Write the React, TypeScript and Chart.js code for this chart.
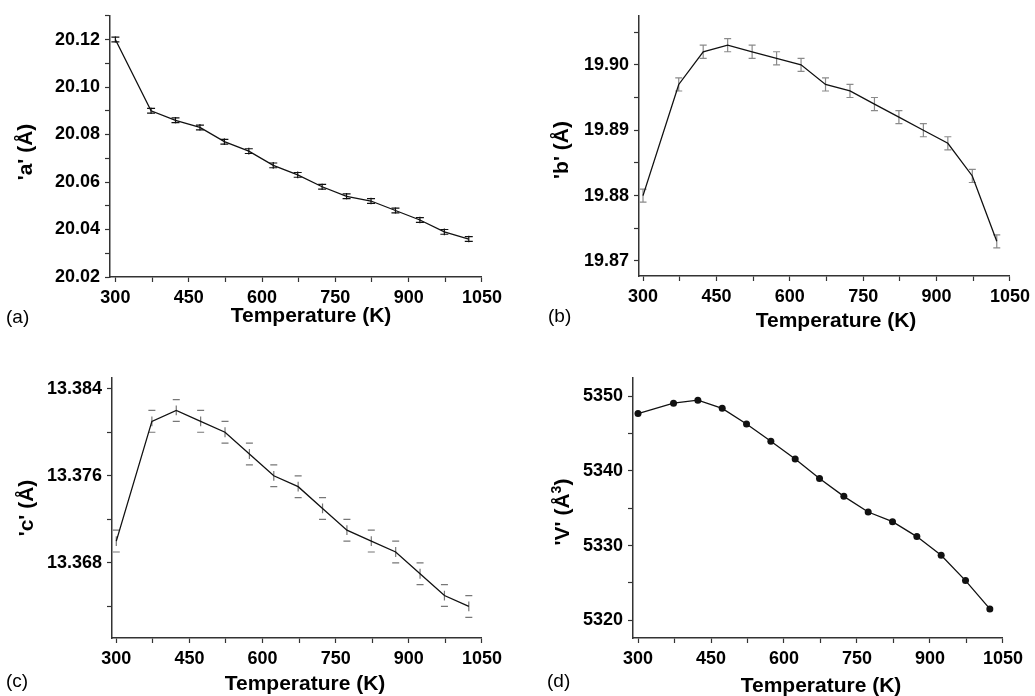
import React, { useEffect, useRef } from 'react';
import { Chart, registerables } from 'chart.js';

Chart.register(...registerables);

// ---------------- data ----------------
const temperatures = [300, 373, 423, 473, 523, 573, 623, 673, 723, 773, 823, 873, 923, 973, 1023];

const aValues = [20.120, 20.090, 20.086, 20.083, 20.077, 20.073, 20.067, 20.063, 20.058, 20.054, 20.052, 20.048, 20.044, 20.039, 20.036];
const aErrors = [0.001, 0.001, 0.001, 0.001, 0.001, 0.001, 0.001, 0.001, 0.001, 0.001, 0.001, 0.001, 0.001, 0.001, 0.001];

const bValues = [19.880, 19.897, 19.902, 19.903, 19.902, 19.901, 19.900, 19.897, 19.896, 19.894, 19.892, 19.890, 19.888, 19.883, 19.873];
const bErrors = [0.001, 0.001, 0.001, 0.001, 0.001, 0.001, 0.001, 0.001, 0.001, 0.001, 0.001, 0.001, 0.001, 0.001, 0.001];

const cValues = [13.370, 13.381, 13.382, 13.381, 13.380, 13.378, 13.376, 13.375, 13.373, 13.371, 13.370, 13.369, 13.367, 13.365, 13.364];
const cErrors = [0.001, 0.001, 0.001, 0.001, 0.001, 0.001, 0.001, 0.001, 0.001, 0.001, 0.001, 0.001, 0.001, 0.001, 0.001];

const vValues = [5347.7, 5349.1, 5349.5, 5348.4, 5346.3, 5344.0, 5341.6, 5339.0, 5336.6, 5334.5, 5333.2, 5331.2, 5328.7, 5325.3, 5321.5];

const xTickValues = [300, 375, 450, 525, 600, 675, 750, 825, 900, 975, 1050];
const xTickLabels = ['300', '', '450', '', '600', '', '750', '', '900', '', '1050'];

const aTickValues = [20.02, 20.03, 20.04, 20.05, 20.06, 20.07, 20.08, 20.09, 20.10, 20.11, 20.12, 20.13];
const aTickLabels = ['20.02', '', '20.04', '', '20.06', '', '20.08', '', '20.10', '', '20.12', ''];

const bTickValues = [19.87, 19.875, 19.88, 19.885, 19.89, 19.895, 19.90, 19.905];
const bTickLabels = ['19.87', '', '19.88', '', '19.89', '', '19.90', ''];

const cTickValues = [13.364, 13.368, 13.372, 13.376, 13.380, 13.384];
const cTickLabels = ['', '13.368', '', '13.376', '', '13.384'];

const vTickValues = [5320, 5325, 5330, 5335, 5340, 5345, 5350];
const vTickLabels = ['5320', '', '5330', '', '5340', '', '5350'];

const xTitle = 'Temperature (K)';

// ---------------- styling ----------------
const FONT = "'Liberation Sans', Arial, Helvetica, sans-serif";
const AXIS_COLOR = '#333';

const errorBarPlugin = {
  id: 'errorBars',
  beforeDatasetsDraw(chart: any, _args: any, opts: any) {
    if (!opts || !opts.errors) return;
    const ctx = chart.ctx;
    const yScale = chart.scales.y;
    const meta = chart.getDatasetMeta(0);
    const ds = chart.data.datasets[0].data as any[];
    ctx.save();
    ctx.strokeStyle = opts.color;
    ctx.lineWidth = opts.lineWidth;
    meta.data.forEach((pt: any, i: number) => {
      const v = ds[i].y;
      const e = opts.errors[i];
      const yTop = yScale.getPixelForValue(v + e);
      const yBot = yScale.getPixelForValue(v - e);
      const x = pt.x;
      const mid = (yTop + yBot) / 2;
      const h = ((yBot - yTop) / 2) * opts.stemFraction;
      ctx.beginPath();
      ctx.moveTo(x, mid - h);
      ctx.lineTo(x, mid + h);
      ctx.moveTo(x - opts.capHalf, yTop);
      ctx.lineTo(x + opts.capHalf, yTop);
      ctx.moveTo(x - opts.capHalf, yBot);
      ctx.lineTo(x + opts.capHalf, yBot);
      ctx.stroke();
    });
    ctx.restore();
  },
};

type PanelSpec = {
  left: number;
  top: number;
  width: number;
  height: number;
  yAxisWidth: number;
  padTop: number;
  padRight: number;
  xMin: number;
  yMin: number;
  yMax: number;
  values: number[];
  yTicks: number[];
  yLabels: string[];
  errors?: number[];
  errColor?: string;
  capHalf?: number;
  stemFraction?: number;
  pointRadius: number;
};

function Panel({ spec }: { spec: PanelSpec }) {
  const ref = useRef<HTMLCanvasElement>(null);
  useEffect(() => {
    if (!ref.current) return;
    const tickFont = { family: FONT, size: 18, weight: 'bold' as const };
    const chart = new Chart(ref.current, {
      type: 'line',
      data: {
        datasets: [
          {
            data: temperatures.map((t, i) => ({ x: t, y: spec.values[i] })),
            borderColor: '#111',
            borderWidth: 1.3,
            pointRadius: spec.pointRadius,
            pointBackgroundColor: '#111',
            pointBorderColor: '#111',
            pointBorderWidth: 0,
            tension: 0,
            fill: false,
          },
        ],
      },
      options: {
        responsive: false,
        animation: false,
        layout: { padding: { top: spec.padTop, right: spec.padRight, left: 0, bottom: 0 } },
        plugins: {
          legend: { display: false },
          tooltip: { enabled: false },
          errorBars: spec.errors
            ? {
                errors: spec.errors,
                color: spec.errColor,
                lineWidth: 1.2,
                capHalf: spec.capHalf,
                stemFraction: spec.stemFraction,
              }
            : {},
        } as any,
        scales: {
          x: {
            type: 'linear',
            min: spec.xMin,
            max: 1050,
            afterBuildTicks: (scale: any) => {
              scale.ticks = xTickValues.map((v) => ({ value: v }));
            },
            afterFit: (scale: any) => {
              scale.height = 40;
            },
            ticks: {
              autoSkip: false,
              maxRotation: 0,
              padding: 5,
              color: '#000',
              font: tickFont,
              callback: (_v: any, i: number) => xTickLabels[i],
            },
            grid: {
              display: true,
              drawOnChartArea: false,
              drawTicks: true,
              tickLength: 5,
              tickColor: AXIS_COLOR,
              tickWidth: 1.2,
            },
            border: { display: true, color: AXIS_COLOR, width: 1.5 },
          },
          y: {
            type: 'linear',
            min: spec.yMin,
            max: spec.yMax,
            afterBuildTicks: (scale: any) => {
              scale.ticks = spec.yTicks.map((v) => ({ value: v }));
            },
            afterFit: (scale: any) => {
              scale.width = spec.yAxisWidth;
            },
            ticks: {
              autoSkip: false,
              padding: 5,
              color: '#000',
              font: tickFont,
              callback: (_v: any, i: number) => spec.yLabels[i],
            },
            grid: {
              display: true,
              drawOnChartArea: false,
              drawTicks: true,
              tickLength: 5,
              tickColor: AXIS_COLOR,
              tickWidth: 1.2,
            },
            border: { display: true, color: AXIS_COLOR, width: 1.5 },
          },
        },
      },
      plugins: spec.errors ? [errorBarPlugin as any] : [],
    });
    return () => chart.destroy();
  }, [spec]);
  return (
    <canvas
      ref={ref}
      width={spec.width}
      height={spec.height}
      style={{ position: 'absolute', left: spec.left, top: spec.top, width: spec.width, height: spec.height }}
    />
  );
}

const panelA: PanelSpec = {
  left: 0, top: 0, width: 507, height: 317, yAxisWidth: 110, padTop: 13, padRight: 25,
  xMin: 289, yMin: 20.02, yMax: 20.13, values: aValues, yTicks: aTickValues, yLabels: aTickLabels,
  errors: aErrors, errColor: '#111', capHalf: 4, stemFraction: 1.4, pointRadius: 0,
};
const panelB: PanelSpec = {
  left: 539, top: 0, width: 496, height: 316, yAxisWidth: 100, padTop: 13, padRight: 25,
  xMin: 291.8, yMin: 19.8677, yMax: 19.9075, values: bValues, yTicks: bTickValues, yLabels: bTickLabels,
  errors: bErrors, errColor: '#8a8a8a', capHalf: 3.5, stemFraction: 1, pointRadius: 0,
};
const panelC: PanelSpec = {
  left: 0, top: 362, width: 507, height: 316, yAxisWidth: 112, padTop: 13, padRight: 25,
  xMin: 291.2, yMin: 13.3611, yMax: 13.385, values: cValues, yTicks: cTickValues, yLabels: cTickLabels,
  errors: cErrors, errColor: '#777', capHalf: 3.5, stemFraction: 0.45, pointRadius: 0,
};
const panelD: PanelSpec = {
  left: 533, top: 362, width: 495, height: 316, yAxisWidth: 100, padTop: 13, padRight: 25,
  xMin: 289.7, yMin: 5317.6, yMax: 5352.5, values: vValues, yTicks: vTickValues, yLabels: vTickLabels,
  pointRadius: 3.5,
};

const titleStyle: React.CSSProperties = {
  position: 'absolute',
  fontFamily: FONT,
  fontWeight: 'bold',
  fontSize: 21,
  lineHeight: '21px',
  whiteSpace: 'nowrap',
  color: '#000',
};

const panelLabelStyle: React.CSSProperties = {
  position: 'absolute',
  fontFamily: FONT,
  fontSize: 19,
  lineHeight: '19px',
  whiteSpace: 'nowrap',
  color: '#000',
};

function XTitle({ cx, top }: { cx: number; top: number }) {
  return <div style={{ ...titleStyle, left: cx, top, transform: 'translateX(-50%)' }}>{xTitle}</div>;
}

function YTitle({ cx, cy, children }: { cx: number; cy: number; children: React.ReactNode }) {
  return (
    <div style={{ ...titleStyle, left: cx, top: cy, transform: 'translate(-50%, -50%) rotate(-90deg)' }}>
      {children}
    </div>
  );
}

export default function App() {
  return (
    <div style={{ position: 'absolute', left: 0, top: 0, width: 1035, height: 696, background: '#fff', overflow: 'hidden' }}>
      <Panel spec={panelA} />
      <Panel spec={panelB} />
      <Panel spec={panelC} />
      <Panel spec={panelD} />

      <XTitle cx={311} top={304} />
      <XTitle cx={836} top={309} />
      <XTitle cx={305} top={672} />
      <XTitle cx={821} top={674} />

      <YTitle cx={24} cy={152}>'a' (Å)</YTitle>
      <YTitle cx={560} cy={150}>'b' (Å)</YTitle>
      <YTitle cx={25} cy={508}>'c' (Å)</YTitle>
      <YTitle cx={561} cy={512}>
        'V' (Å<sup style={{ fontSize: 14, lineHeight: 0 }}>3</sup>)
      </YTitle>

      <div style={{ ...panelLabelStyle, left: 6, top: 307 }}>(a)</div>
      <div style={{ ...panelLabelStyle, left: 548, top: 306 }}>(b)</div>
      <div style={{ ...panelLabelStyle, left: 6, top: 671 }}>(c)</div>
      <div style={{ ...panelLabelStyle, left: 547, top: 671 }}>(d)</div>
    </div>
  );
}
